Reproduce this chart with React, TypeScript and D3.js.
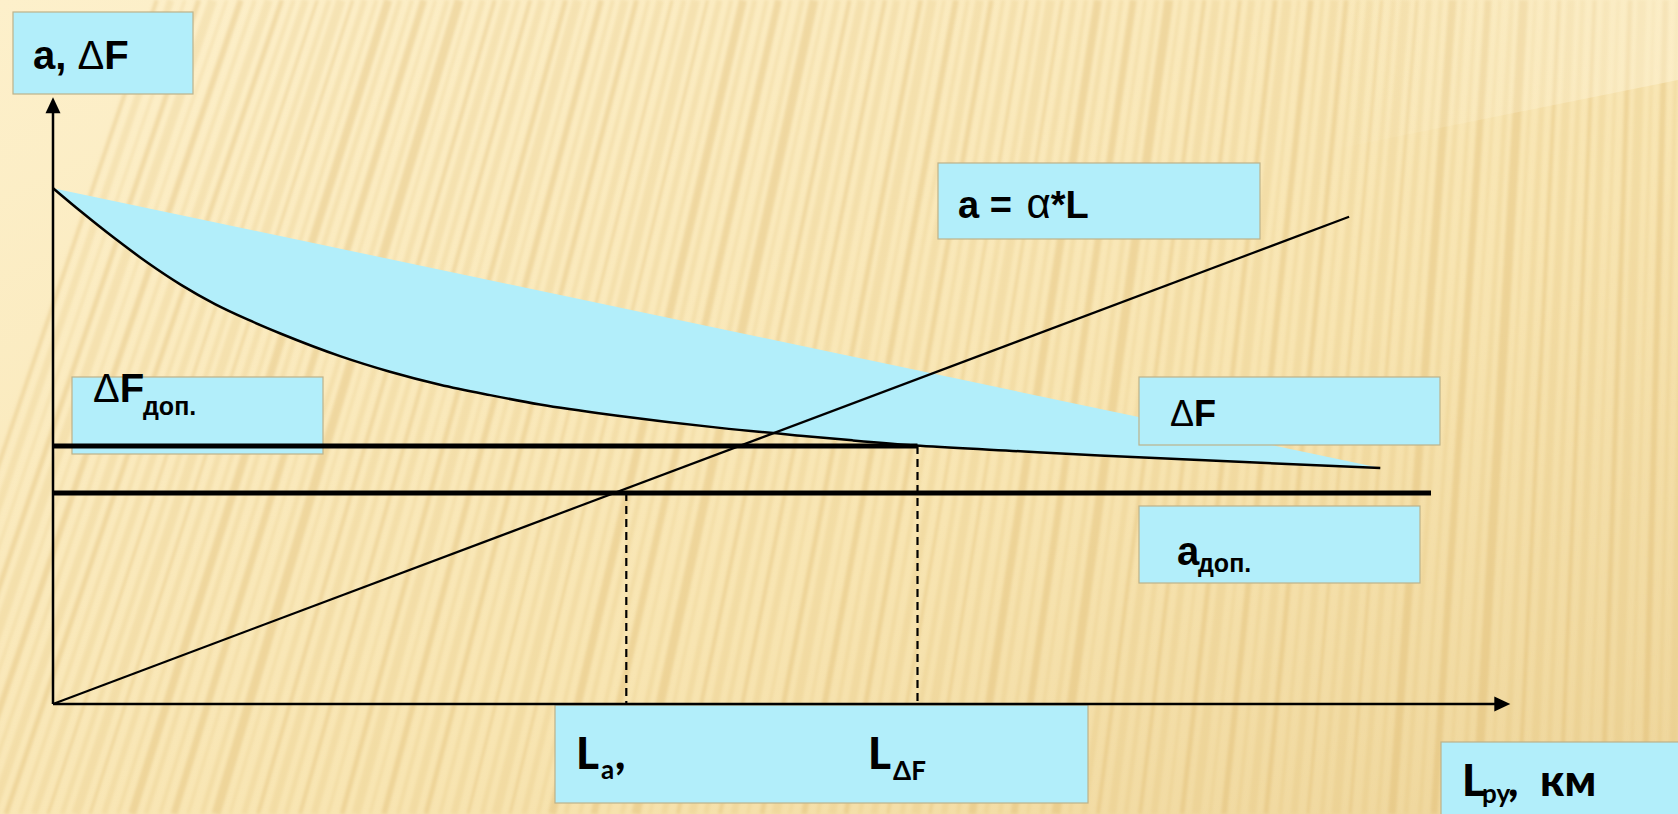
import React from 'react';
import * as d3 from 'd3';

const W = 1678;
const H = 814;

// ΔF as a function of L
const curveL = [0, 2.15, 4.77, 7.31, 9.85, 12.46, 15.0, 17.54, 22.08, 25.92, 29.77, 33.62, 37.46, 43.6, 51.3, 57.5, 61.5, 66.7, 74.4, 80.5, 88.2, 102.1];
const curveDF = [99.2, 94.7, 89.5, 84.8, 80.6, 76.9, 73.9, 71.2, 66.9, 63.9, 61.4, 59.4, 57.6, 55.4, 53.1, 51.6, 50.7, 49.65, 48.6, 47.8, 46.9, 45.4];

// a = α*L
const lineL = [0, 99.7];
const lineA = [0, 93.7];

// levels and marked lengths
const dFdop = 49.6;
const aDop = 40.6;
const La = 44.1;
const LdF = 66.5;
const aDopEnd = 106;
const xAxisEnd = 112.1;
const yAxisEnd = 116.7;

const boxFill = '#b2eefa';
const boxStroke = '#bdb28a';
const arial = '"Liberation Sans", Arial, sans-serif';
const lato = 'Lato, "Open Sans", sans-serif';

function Background() {
    // soft slanted paper stripes
    const stripeWidths = [4, 7, 3, 5, 9, 3, 6, 4, 8, 5];
    const stripes = d3.range(-120, W + 40, 14).map((xb, i) => {
        const t = 0.34 - 0.32 * Math.max(0, xb) / W;
        return (
            <line
                key={i}
                x1={xb}
                y1={H}
                x2={xb + t * H}
                y2={0}
                stroke={i % 3 === 0 ? 'rgba(214,172,88,0.30)' : 'rgba(222,186,110,0.22)'}
                strokeWidth={stripeWidths[i % stripeWidths.length]}
            />
        );
    });
    return (
        <g>
            <defs>
                <linearGradient id="bg" x1="0" y1="0" x2="1" y2="1">
                    <stop offset="0" stopColor="#fdf0cb" />
                    <stop offset="0.6" stopColor="#f8e5b2" />
                    <stop offset="1" stopColor="#eed59a" />
                </linearGradient>
                <linearGradient id="glow" x1="0" y1="0" x2="1" y2="0">
                    <stop offset="0" stopColor="#fff6dc" stopOpacity="0" />
                    <stop offset="1" stopColor="#fff6dc" stopOpacity="0.45" />
                </linearGradient>
                <filter id="soft">
                    <feGaussianBlur stdDeviation="1.6" />
                </filter>
            </defs>
            <rect width={W} height={H} fill="url(#bg)" />
            <g filter="url(#soft)">{stripes}</g>
            <path d={`M1330,0 L${W},0 L${W},80 L1330,150 Z`} fill="url(#glow)" />
        </g>
    );
}

function Box({ x, y, w, h }: { x: number; y: number; w: number; h: number }) {
    return <rect x={x} y={y} width={w} height={h} fill={boxFill} stroke={boxStroke} strokeWidth={1.2} />;
}

export default function App() {
    const xScale = d3.scaleLinear().domain([0, 100]).range([53, 1353]);
    const yScale = d3.scaleLinear().domain([0, 100]).range([704, 184]);

    const pts: [number, number][] = curveL.map((l, i) => [l, curveDF[i]]);
    const curveGen = d3.line<[number, number]>()
        .x(d => xScale(d[0]))
        .y(d => yScale(d[1]))
        .curve(d3.curveMonotoneX);
    const curvePath = curveGen(pts) || '';
    // chord from the first to the last point closes the shaded band
    const fillPath = curvePath + 'Z';

    const x0 = xScale(0);
    const y0 = yScale(0);
    const yTip = yScale(yAxisEnd);
    const xTip = xScale(xAxisEnd);

    return (
        <svg width={W} height={H} style={{ position: 'absolute', left: 0, top: 0, display: 'block' }}>
            <Background />

            <path d={fillPath} fill={boxFill} />

            {/* text boxes */}
            <Box x={13} y={12} w={180} h={82} />
            <Box x={938} y={163} w={322} h={76} />
            <Box x={72} y={377} w={251} h={77} />
            <Box x={1139} y={377} w={301} h={68} />
            <Box x={1139} y={506} w={281} h={77} />
            <Box x={555} y={705} w={533} h={98} />
            <Box x={1441} y={742} w={260} h={100} />

            {/* axes */}
            <line x1={x0} y1={y0} x2={x0} y2={yTip + 12} stroke="#000" strokeWidth={2.5} />
            <path d={`M${x0},${yTip} L${x0 - 7.5},${yTip + 16} L${x0 + 7.5},${yTip + 16} Z`} fill="#000" />
            <line x1={x0} y1={y0} x2={xTip - 12} y2={y0} stroke="#000" strokeWidth={2.5} />
            <path d={`M${xTip},${y0} L${xTip - 16},${y0 - 7.5} L${xTip - 16},${y0 + 7.5} Z`} fill="#000" />

            {/* allowed levels */}
            <line x1={x0} y1={yScale(dFdop)} x2={xScale(LdF)} y2={yScale(dFdop)} stroke="#000" strokeWidth={5} />
            <line x1={x0} y1={yScale(aDop)} x2={xScale(aDopEnd)} y2={yScale(aDop)} stroke="#000" strokeWidth={5} />

            {/* dashed drops */}
            <line x1={xScale(La)} y1={yScale(aDop)} x2={xScale(La)} y2={y0} stroke="#000" strokeWidth={2.2} strokeDasharray="8,5" />
            <line x1={xScale(LdF)} y1={yScale(dFdop)} x2={xScale(LdF)} y2={y0} stroke="#000" strokeWidth={2.2} strokeDasharray="8,5" />

            {/* a = α*L */}
            <line x1={xScale(lineL[0])} y1={yScale(lineA[0])} x2={xScale(lineL[1])} y2={yScale(lineA[1])} stroke="#000" strokeWidth={2.2} />

            {/* ΔF curve */}
            <path d={curvePath} fill="none" stroke="#000" strokeWidth={2.5} />

            {/* labels */}
            <text x={33} y={69} fontFamily={arial} fontSize={40} fontWeight="bold" fill="#000">
                a,<tspan fontWeight="normal"> Δ</tspan>F
            </text>
            <text x={958} y={218} fontFamily={arial} fontSize={38} fontWeight="bold" fill="#000" xmlSpace="preserve">
                a = <tspan fontWeight="normal" fontSize={42} dx={4}>α</tspan>*L
            </text>
            <text x={93} y={402} fontFamily={arial} fontSize={40} fontWeight="bold" fill="#000">
                <tspan fontWeight="normal">Δ</tspan>F
            </text>
            <text x={143} y={415} fontFamily={arial} fontSize={25} fontWeight="bold" fill="#000">доп.</text>
            <text x={1170} y={426} fontFamily={arial} fontSize={36} fontWeight="bold" fill="#000">
                <tspan fontWeight="normal">Δ</tspan>F
            </text>
            <text x={1177} y={565} fontFamily={arial} fontSize={40} fontWeight="bold" fill="#000">a</text>
            <text x={1198} y={572} fontFamily={arial} fontSize={25} fontWeight="bold" fill="#000">доп.</text>

            <text x={576} y={769} fontFamily={lato} fontSize={44} fontWeight={900} fill="#000">L</text>
            <text x={601} y={779} fontFamily={lato} fontSize={26} fontWeight={700} fill="#000">a</text>
            <text x={615} y={769} fontFamily={lato} fontSize={44} fontWeight={900} fill="#000">,</text>
            <text x={868} y={769} fontFamily={lato} fontSize={44} fontWeight={900} fill="#000">L</text>
            <text x={893} y={780} fontFamily={lato} fontSize={26} fontWeight={700} fill="#000">ΔF</text>

            <text x={1462} y={796} fontFamily={lato} fontSize={44} fontWeight={900} fill="#000">L</text>
            <text x={1482} y={803} fontFamily={lato} fontSize={26} fontWeight={700} fill="#000">py</text>
            <text x={1508} y={796} fontFamily={lato} fontSize={44} fontWeight={900} fill="#000">,</text>
            <text x={1540} y={796} fontFamily={lato} fontSize={44} fontWeight={900} fill="#000">км</text>
        </svg>
    );
}
